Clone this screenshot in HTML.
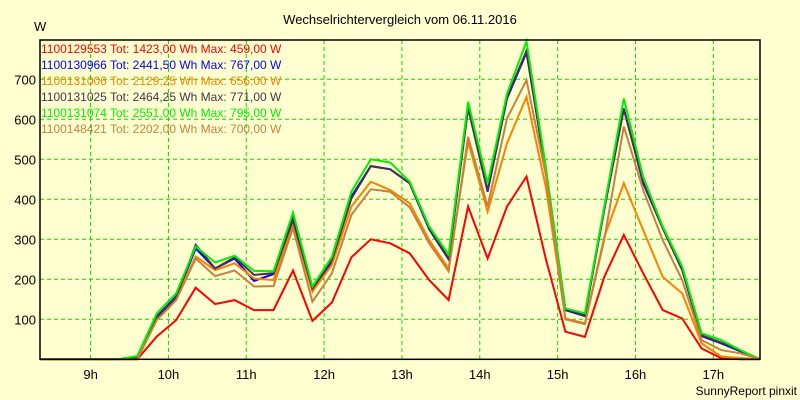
<!DOCTYPE html>
<html><head><meta charset="utf-8"><style>
body{margin:0;background:#ffffd0;}
svg{display:block;font-family:"Liberation Sans",sans-serif;}
</style></head><body>
<svg id="chart" width="800" height="400" viewBox="0 0 800 400">
<rect x="0" y="0" width="800" height="400" fill="#ffffd0"/>
<text x="400" y="24" font-size="13" text-anchor="middle">Wechselrichtervergleich vom 06.11.2016</text>
<text x="34" y="31" font-size="13">W</text>
<text x="797" y="395" font-size="12" text-anchor="end">SunnyReport pinxit</text>
<g id="grid"></g><g id="series"></g><g id="axes"></g><g id="legend"></g>
</svg>
<script>
const yTicks=[100,200,300,400,500,600,700];
const xTicks=[9,10,11,12,13,14,15,16,17];
const xTickLabels=["9h","10h","11h","12h","13h","14h","15h","16h","17h"];
const tStart=8.35, tStep=0.25;
const names=["1100129553","1100130966","1100131006","1100131025","1100131074","1100148421"];
const totals=["1423,00","2441,50","2129,25","2464,25","2551,00","2202,00"];
const maxima=["459,00","767,00","656,00","771,00","795,00","700,00"];
const colors=["#ff0000","#0000ff","#ff8000","#4a3050","#00f000","#c88040"];
const red   =[0,0,0,0,0,0,57,98,179,138,148,123,123,222,96,142,255,300,290,265,198,148,382,252,382,457,250,69,56,206,311,215,123,102,27,3,0,0];
const blue  =[0,0,0,0,0,3,107,157,277,227,252,196,213,352,173,244,407,483,475,440,325,250,630,419,652,767,470,123,108,375,627,440,328,223,58,40,20,0];
const orange=[0,0,0,0,0,0,102,152,257,223,240,202,198,336,169,236,382,444,423,390,298,227,544,369,540,656,430,102,90,306,440,323,206,165,40,7,3,0];
const dark  =[0,0,0,0,0,3,105,155,286,227,255,211,215,348,177,248,402,483,475,440,328,252,628,422,655,771,470,125,110,378,625,445,328,225,60,42,22,0];
const green =[0,0,0,0,0,8,115,165,282,242,259,221,220,367,182,256,419,500,492,444,332,262,644,440,664,795,480,127,115,382,652,456,332,232,65,48,23,0];
const brown =[0,0,0,0,0,0,98,148,252,208,222,182,183,328,144,215,361,425,419,380,290,220,556,382,602,698,460,100,88,300,582,423,298,198,48,23,15,0];
const seriesData=[red,blue,orange,dark,green,brown];
const L=40,R=760,T=40,B=359.3;
const xS=t=>L+(t-tStart)/(tStep*37)*(R-L);
const yS=v=>B-v*0.4;
const NS="http://www.w3.org/2000/svg";
function mk(tag,attrs,parent){const e=document.createElementNS(NS,tag);for(const k in attrs)e.setAttribute(k,attrs[k]);parent.appendChild(e);return e;}
const grid=document.getElementById('grid'),ser=document.getElementById('series'),axes=document.getElementById('axes'),leg=document.getElementById('legend');
yTicks.forEach(v=>{
 const l=mk('line',{x1:L,x2:R,y1:yS(v),y2:yS(v),stroke:'#00e000','stroke-dasharray':'4,3'},grid);
 
 
 const t=mk('text',{x:36,y:yS(v)+5,'font-size':13,'text-anchor':'end'},axes);
 t.textContent=v;
 
 
});
xTicks.forEach((h,i)=>{
 const l=mk('line',{x1:xS(h),x2:xS(h),y1:T,y2:B,stroke:'#00e000','stroke-dasharray':'4,3'},grid);
 
 
 const t=mk('text',{x:xS(h),y:379,'font-size':13,'text-anchor':'middle'},axes);
 t.textContent=xTickLabels[i];
 
 
});
seriesData.forEach((arr,s)=>{
 const pts=arr.map((v,k)=>xS(tStart+k*tStep).toFixed(1)+','+yS(v).toFixed(1)).join(' ');
 const p=mk('polyline',{points:pts,fill:'none',stroke:colors[s],'stroke-width':2,'stroke-linejoin':'miter'},ser);
 
 
});
const fr=mk('rect',{x:L,y:T,width:R-L,height:B-T,fill:'none',stroke:'#000','stroke-width':1.5},axes);


names.forEach((n,s)=>{
 const t=mk('text',{x:41,y:53+s*16,'font-size':12,fill:colors[s]},leg);
 t.textContent=n+' Tot: '+totals[s]+' Wh Max: '+maxima[s]+' W';
 
 
});
</script>
</body></html>
